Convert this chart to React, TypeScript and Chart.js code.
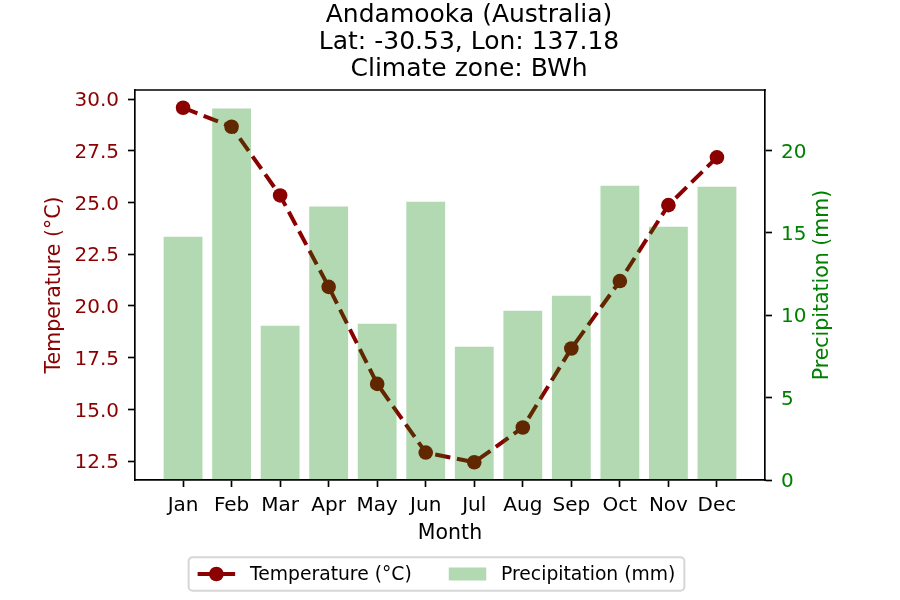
import { useEffect, useRef } from 'react';
import { Chart, registerables } from 'chart.js';

Chart.register(...registerables);

const months = ['Jan', 'Feb', 'Mar', 'Apr', 'May', 'Jun', 'Jul', 'Aug', 'Sep', 'Oct', 'Nov', 'Dec'];
const temperature = [29.58, 28.66, 25.34, 20.92, 16.23, 12.91, 12.44, 14.12, 17.94, 21.2, 24.87, 27.18];
const precipitation = [14.77, 22.55, 9.36, 16.6, 9.48, 16.9, 8.09, 10.27, 11.19, 17.87, 15.38, 17.81];
const tempTicks = [12.5, 15, 17.5, 20, 22.5, 25, 27.5, 30];
const precipTicks = [0, 5, 10, 15, 20];
const titleLines = ['Andamooka (Australia)', 'Lat: -30.53, Lon: 137.18', 'Climate zone: BWh'];
const tempLabel = 'Temperature (°C)';
const precipLabel = 'Precipitation (mm)';
const xLabel = 'Month';

const FONT = '"DejaVu Sans", "Liberation Sans", sans-serif';
const TEMP_COLOR = '#8B0000';
const PRECIP_COLOR = '#008000';
const BAR_COLOR = 'rgba(0,128,0,0.3)';
const SPINE = 1.67;

const tMin = Math.min(...temperature);
const tMax = Math.max(...temperature);
const tRange = tMax - tMin;
const pMax = Math.max(...precipitation);

const framePlugin = {
  id: 'frame',
  afterDraw(chart: any) {
    const { ctx, chartArea } = chart;
    ctx.save();
    // top spine
    ctx.strokeStyle = '#000';
    ctx.lineWidth = SPINE;
    ctx.beginPath();
    ctx.moveTo(chartArea.left - SPINE / 2, chartArea.top);
    ctx.lineTo(chartArea.right + SPINE / 2, chartArea.top);
    ctx.stroke();

    // right axis title (reads bottom to top)
    ctx.translate(chartArea.right + 57.5, (chartArea.top + chartArea.bottom) / 2);
    ctx.rotate(-Math.PI / 2);
    ctx.font = `20.5px ${FONT}`;
    ctx.fillStyle = PRECIP_COLOR;
    ctx.textAlign = 'center';
    ctx.textBaseline = 'middle';
    ctx.fillText(precipLabel, 0, 0);
    ctx.restore();

    // legend
    ctx.save();
    const fs = 18.75;
    ctx.font = `${fs}px ${FONT}`;
    const w1 = ctx.measureText(tempLabel).width;
    const w2 = ctx.measureText(precipLabel).width;
    const pad = 9;
    const hl = 37.5;
    const tp = 14.8;
    const cs = 37;
    const total = pad + hl + tp + w1 + cs + hl + tp + w2 + pad;
    const cx = chartArea.left + 301.5;
    const bx = cx - total / 2;
    const by = chartArea.bottom + 77.3;
    const bh = 33.4;
    const cy = by + bh / 2;
    const r = 4;
    ctx.beginPath();
    ctx.moveTo(bx + r, by);
    ctx.lineTo(bx + total - r, by);
    ctx.arcTo(bx + total, by, bx + total, by + r, r);
    ctx.lineTo(bx + total, by + bh - r);
    ctx.arcTo(bx + total, by + bh, bx + total - r, by + bh, r);
    ctx.lineTo(bx + r, by + bh);
    ctx.arcTo(bx, by + bh, bx, by + bh - r, r);
    ctx.lineTo(bx, by + r);
    ctx.arcTo(bx, by, bx + r, by, r);
    ctx.closePath();
    ctx.fillStyle = 'rgba(255,255,255,0.8)';
    ctx.fill();
    ctx.strokeStyle = '#d6d6d6';
    ctx.lineWidth = 2;
    ctx.stroke();

    // temperature handle
    let x = bx + pad;
    ctx.strokeStyle = TEMP_COLOR;
    ctx.lineWidth = 4;
    ctx.setLineDash([15.4, 6.7]);
    ctx.beginPath();
    ctx.moveTo(x, cy);
    ctx.lineTo(x + hl, cy);
    ctx.stroke();
    ctx.setLineDash([]);
    ctx.fillStyle = TEMP_COLOR;
    ctx.beginPath();
    ctx.arc(x + hl / 2, cy, 7.3, 0, Math.PI * 2);
    ctx.fill();
    x += hl + tp;
    ctx.fillStyle = '#000';
    ctx.textAlign = 'left';
    ctx.textBaseline = 'middle';
    ctx.fillText(tempLabel, x, cy + 1);
    x += w1 + cs;
    // precipitation handle
    ctx.fillStyle = BAR_COLOR;
    ctx.fillRect(x, cy - 6.5, hl, 13);
    x += hl + tp;
    ctx.fillStyle = '#000';
    ctx.fillText(precipLabel, x, cy + 1);
    ctx.restore();
  },
};

export default function App() {
  const canvasRef = useRef<HTMLCanvasElement | null>(null);

  useEffect(() => {
    const canvas = canvasRef.current;
    if (!canvas) return;
    const tickGrid = {
      display: true,
      drawOnChartArea: false,
      drawTicks: true,
      offset: false,
      tickLength: 7,
      tickWidth: SPINE,
      tickColor: '#000',
    };
    const border = { display: true, color: '#000', width: SPINE };
    const chart = new Chart(canvas, {
      type: 'bar',
      data: {
        datasets: [
          {
            type: 'line',
            label: tempLabel,
            data: temperature.map((v, i) => ({ x: i, y: v })),
            xAxisID: 'x',
            yAxisID: 'y',
            borderColor: TEMP_COLOR,
            backgroundColor: TEMP_COLOR,
            borderWidth: 4,
            borderDash: [15.4, 6.7],
            borderCapStyle: 'butt',
            pointRadius: 7.3,
            pointBorderWidth: 0,
            pointBackgroundColor: TEMP_COLOR,
            pointHoverRadius: 7.3,
            tension: 0,
            fill: false,
            order: 1,
          } as any,
          {
            type: 'bar',
            label: precipLabel,
            data: precipitation.map((v, i) => ({ x: i, y: v })),
            xAxisID: 'x',
            yAxisID: 'y1',
            backgroundColor: BAR_COLOR,
            borderWidth: 0,
            barPercentage: 0.8,
            categoryPercentage: 1,
            order: 0,
          } as any,
        ],
      },
      options: {
        responsive: false,
        animation: false,
        devicePixelRatio: 1,
        layout: { padding: { left: 38, right: 0, top: 0, bottom: 53 } },
        plugins: {
          legend: { display: false },
          tooltip: { enabled: false },
          title: {
            display: true,
            text: titleLines,
            color: '#000',
            font: { family: FONT, size: 25, lineHeight: '27px', weight: 'normal' },
            padding: { top: 2, bottom: 7 },
          },
        },
        scales: {
          x: {
            type: 'linear',
            position: 'bottom',
            min: -0.99,
            max: 11.99,
            offset: false,
            afterBuildTicks: (s: any) => {
              s.ticks = months.map((_, i) => ({ value: i }));
            },
            afterFit: (s: any) => {
              s.height = 67;
            },
            ticks: {
              callback: (v: any) => months[Math.round(Number(v))],
              color: '#000',
              font: { family: FONT, size: 20 },
              padding: 7,
              autoSkip: false,
              maxRotation: 0,
            },
            grid: tickGrid,
            border,
            title: {
              display: true,
              text: xLabel,
              color: '#000',
              font: { family: FONT, size: 20.5 },
              padding: { top: 4, bottom: 1.5 },
            },
          },
          y: {
            type: 'linear',
            position: 'left',
            min: tMin - 0.05 * tRange,
            max: tMax + 0.05 * tRange,
            afterBuildTicks: (s: any) => {
              s.ticks = tempTicks.map((v) => ({ value: v }));
            },
            afterFit: (s: any) => {
              s.width = 97;
            },
            ticks: {
              callback: (v: any) => Number(v).toFixed(1),
              color: TEMP_COLOR,
              font: { family: FONT, size: 20 },
              padding: 9,
              labelOffset: 2,
            },
            grid: tickGrid,
            border,
            title: {
              display: true,
              text: tempLabel,
              color: TEMP_COLOR,
              font: { family: FONT, size: 20.5 },
              padding: { top: 4.5, bottom: 4 },
            },
          },
          y1: {
            type: 'linear',
            position: 'right',
            min: 0,
            max: pMax * 1.05,
            afterBuildTicks: (s: any) => {
              s.ticks = precipTicks.map((v) => ({ value: v }));
            },
            afterFit: (s: any) => {
              s.width = 135;
            },
            ticks: {
              callback: (v: any) => String(v),
              color: PRECIP_COLOR,
              font: { family: FONT, size: 20 },
              padding: 9,
              labelOffset: 2,
            },
            grid: tickGrid,
            border,
          },
        },
      } as any,
      plugins: [framePlugin],
    });
    return () => chart.destroy();
  }, []);

  return (
    <div style={{ position: 'absolute', left: 0, top: 0, width: 900, height: 600, background: '#fff' }}>
      <canvas ref={canvasRef} width={900} height={600} style={{ display: 'block', width: 900, height: 600 }} />
    </div>
  );
}
